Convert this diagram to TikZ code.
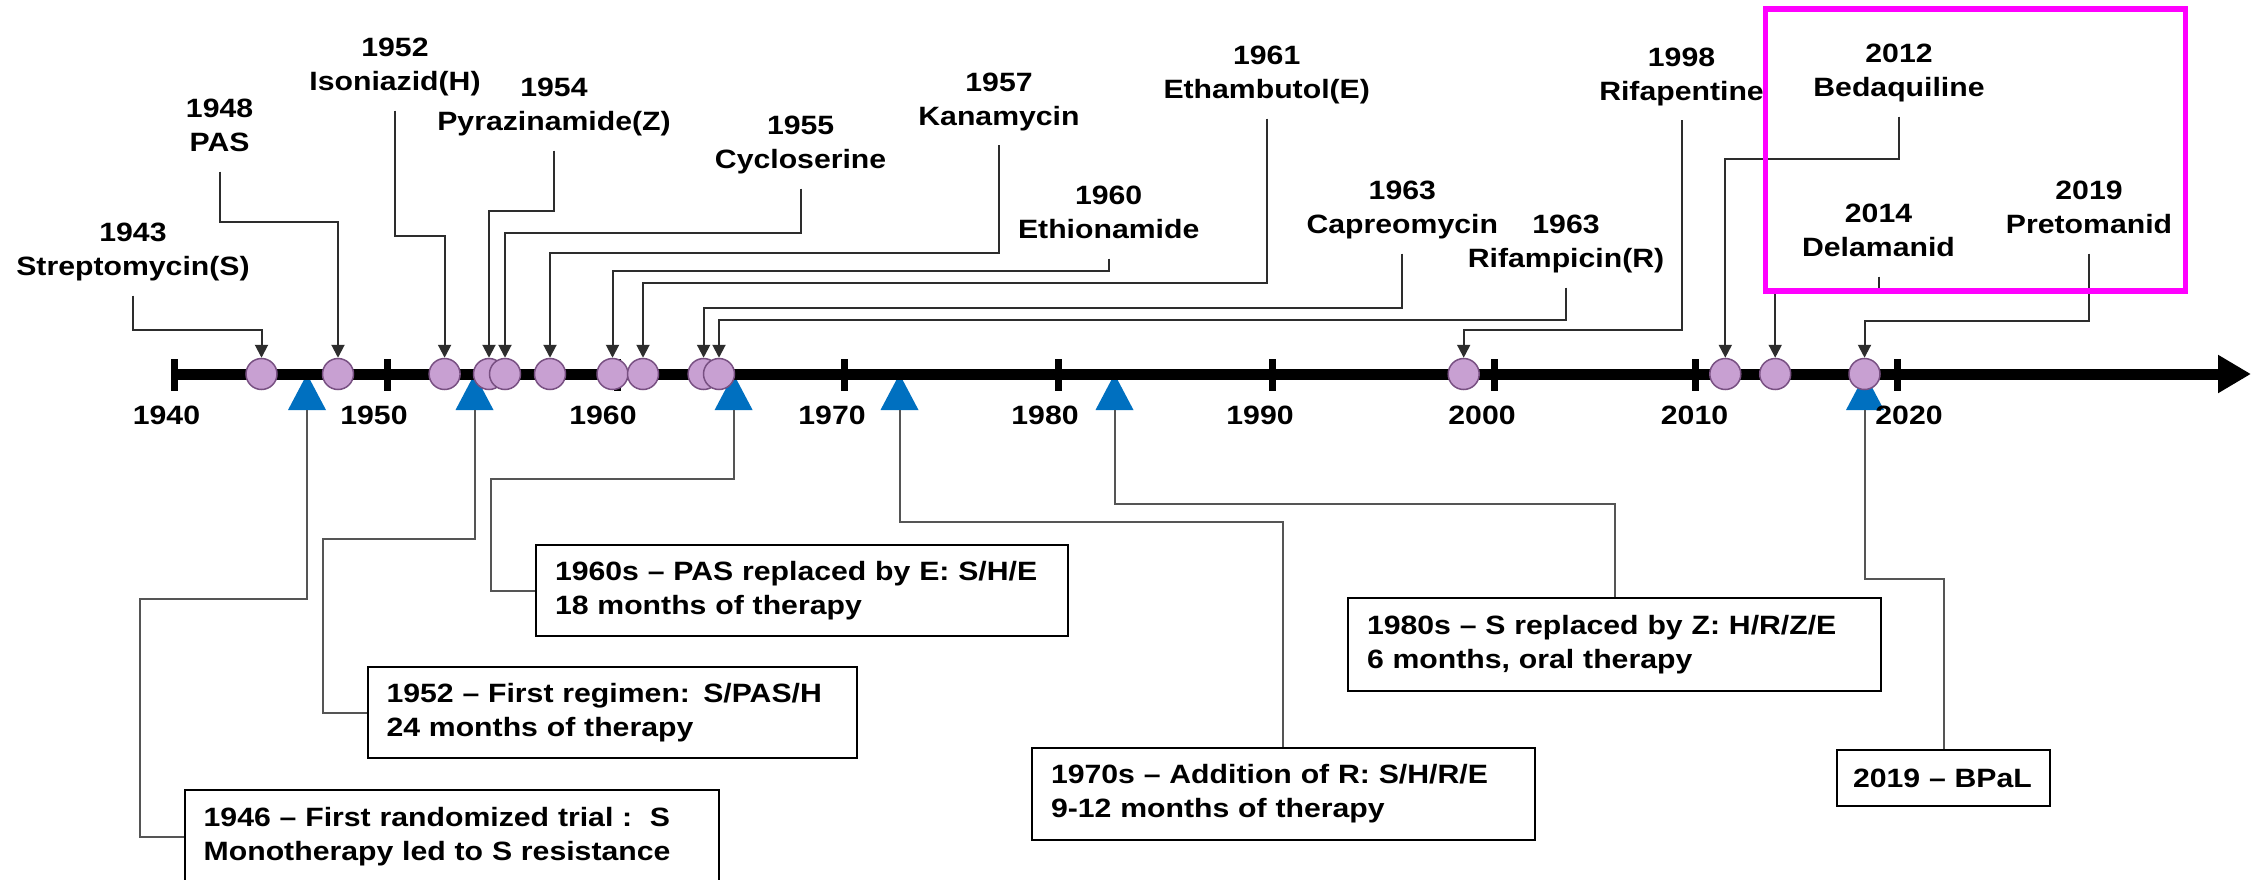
\documentclass[tikz,border=0pt]{standalone}
\usepackage{fontspec}
\setmainfont{Liberation Sans}[FakeStretch=1.14]
\usetikzlibrary{arrows.meta}
\definecolor{lil}{RGB}{200,160,210}
\definecolor{lilb}{RGB}{120,80,130}
\definecolor{triblue}{RGB}{0,112,192}
\definecolor{cgray}{RGB}{45,45,45}
\definecolor{lgray}{RGB}{85,85,85}
\definecolor{mag}{RGB}{255,0,255}
\newcommand{\twol}[2]{\strut#1\\\strut#2}
\tikzset{
  dot/.style={circle, draw=lilb, line width=1.5pt, fill=lil, minimum size=31pt, inner sep=0pt},
  drug/.style={align=center, inner sep=0pt},
  yearlab/.style={inner sep=0pt},
  conn/.style={draw=cgray, line width=2pt, shorten <=10pt, -{Triangle[width=13pt,length=13pt]}},
  lconn/.style={draw=lgray, line width=2pt},
  evbox/.style={draw=black, line width=2pt, fill=white, align=left, inner xsep=19pt, inner ysep=0pt},
  axisline/.style={line width=11pt, -{Triangle[width=36pt,length=33pt]}},
  tickline/.style={line width=7pt},
  hlbox/.style={draw=mag, line width=5.5pt, inner sep=0pt}
}
\begin{document}
\begin{tikzpicture}[x=1pt,y=-1pt, font=\fontsize{26.5}{34}\selectfont\bfseries]
\clip (0,0) rectangle (2265,879);
\fill[white] (0,0) rectangle (2265,879);

% blue triangles (regimen markers)
\foreach \n/\x in {t1946/307, t1952/474.5, t1960/733.6, t1970/899.5, t1980/1114.5, t2019/1865}{
  \coordinate (\n) at (\x,410);
  \fill[triblue] (\x-19,410) -- (\x+19,410) -- (\x,374) -- cycle;
}

% axis
\coordinate (ax0) at (174,374);
\coordinate (ax1) at (2251,374);
\draw[axisline] (ax0) -- (ax1);
\foreach \x in {174,387,617,844,1058,1272,1494,1695,1897}
  \draw[tickline] (\x,359) -- (\x,391);
\foreach \y/\x in {1940/166.5,1950/374,1960/603,1970/832,1980/1045,1990/1260,2000/1482,2010/1694.5,2020/1909}
  \node[yearlab] (y\y) at (\x,415) {\y};

% drug circles
\foreach \n/\x in {1943/261.5,1948/338,1952/444.6,1954/489,1955/505,1957/550,1960/612.5,1961/643,1963a/703.6,1963b/719,1998/1463.7,2012/1725.3,2014/1775.2,2019/1864.5}
  \node[dot] (c\n) at (\x,374) {};

% drug labels
\node[drug] (l1943) at (133,251.5) {\twol{1943}{Streptomycin(S)}};
\node[drug] (l1948) at (219.6,127.5) {\twol{1948}{PAS}};
\node[drug] (l1952) at (395,66.5) {\twol{1952}{Isoniazid(H)}};
\node[drug] (l1954) at (554,106.5) {\twol{1954}{Pyrazinamide(Z)}};
\node[drug] (l1955) at (800.6,144.5) {\twol{1955}{Cycloserine}};
\node[drug] (l1957) at (999,101.2) {\twol{1957}{Kanamycin}};
\node[drug] (l1960) at (1108.7,214.5) {\twol{1960}{Ethionamide}};
\node[drug] (l1961) at (1266.7,74.5) {\twol{1961}{Ethambutol(E)}};
\node[drug] (l1963a) at (1402.3,209.5) {\twol{1963}{Capreomycin}};
\node[drug] (l1963b) at (1566,243.5) {\twol{1963}{Rifampicin(R)}};
\node[drug] (l1998) at (1681.5,76.2) {\twol{1998}{Rifapentine}};
\node[drug] (l2012) at (1899,72.5) {\twol{2012}{Bedaquiline}};
\node[drug] (l2014) at (1878.5,232.5) {\twol{2014}{Delamanid}};
\node[drug] (l2019) at (2089,209.5) {\twol{2019}{Pretomanid}};

% drug connectors
\foreach \n/\h in {1943/330,1948/221.7,1952/236,1954/211,1955/233.3,1957/253,1960/271,1961/283.3,1963a/308,1963b/320,1998/330,2012/159.3,2014/290,2019/320.7}
  \draw[conn] (l\n.south) -- (l\n.south |- 0,\h) -| (c\n.north);

% highlight box
\node[hlbox, minimum width=419.8pt, minimum height=281.6pt] (hl) at (1975.6,150) {};

% regimen boxes
\node[evbox, text width=496pt, minimum height=94pt] (b1946) at (451.7,837) {1946 -- First randomized trial :\ \ S\\Monotherapy led to S resistance};
\node[evbox, text width=451pt, minimum height=91.6pt] (b1952) at (612,712.5) {1952 -- First regimen: S/PAS/H\\24 months of therapy};
\node[evbox, text width=494pt, minimum height=91pt] (b1960) at (802,590.5) {1960s -- PAS replaced by E: S/H/E\\18 months of therapy};
\node[evbox, text width=464.6pt, minimum height=91.7pt] (b1970) at (1283.3,794) {1970s -- Addition of R: S/H/R/E\\9-12 months of therapy};
\node[evbox, text width=495pt, minimum height=92.7pt] (b1980) at (1614.5,644.7) {1980s -- S replaced by Z: H/R/Z/E\\6 months, oral therapy};
\node[evbox, text width=181pt, minimum height=56pt, inner xsep=16pt] (b2019) at (1943.5,778) {2019 -- BPaL};

% regimen connectors
\draw[lconn] (t1946) |- (139.5,599.3) |- (b1946.west);
\draw[lconn] (t1952) |- (322.6,539) |- (b1952.west);
\draw[lconn] (t1960) |- (490.8,479) |- (b1960.west);
\draw[lconn] (t1970) -- (t1970 |- 0,522.3) -| (b1970.north);
\draw[lconn] (t1980) -- (t1980 |- 0,504) -| (b1980.north);
\draw[lconn] (t2019) -- (t2019 |- 0,579) -| (b2019.north);
\end{tikzpicture}
\end{document}
